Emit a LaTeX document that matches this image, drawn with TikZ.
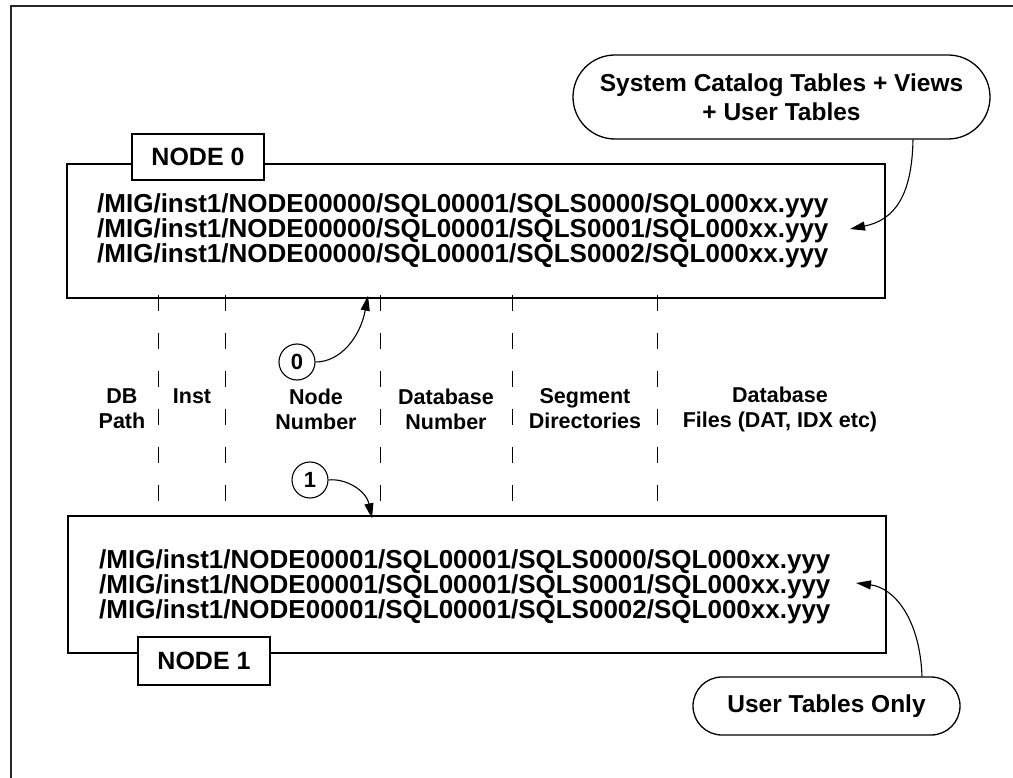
\documentclass[tikz,border=0pt]{standalone}
\usepackage{fontspec}
\setmainfont{Liberation Sans}[BoldFont={Liberation Sans Bold}]
\usetikzlibrary{arrows.meta,shapes.misc}
\begin{document}
\begin{tikzpicture}[x=1pt,y=-1pt,
  every node/.style={font=\bfseries},
  frame/.style={line width=1.4pt,draw=black!85},
  box/.style={draw,line width=1.4pt,minimum width=818pt,inner sep=0pt},
  lbl/.style={draw,fill=white,line width=1.3pt,minimum width=132pt,minimum height=46pt,inner sep=0pt,font=\fontsize{25}{27}\bfseries\selectfont},
  paths/.style={anchor=west,align=left,inner sep=0pt,font=\fontsize{26}{25}\bfseries\selectfont},
  callout/.style={draw,rounded rectangle,line width=1.3pt,inner sep=0pt,align=center,font=\fontsize{24.5}{29}\bfseries\selectfont},
  col/.style={align=center,inner sep=0pt,font=\fontsize{21.5}{25}\bfseries\selectfont},
  sep/.style={line width=0.8pt,dash pattern=on 16pt off 22pt},
  num/.style={draw,circle,line width=1.1pt,minimum size=36pt,inner sep=0pt,font=\fontsize{22}{22}\bfseries\selectfont},
  arr/.style={line width=1.1pt,-{Triangle[length=15pt,width=9pt]}}]
\useasboundingbox (0,0) rectangle (1013,778);
% outer frame
\coordinate (f0) at (11,778);
\coordinate (f1) at (11,6);
\coordinate (f2) at (1013,6);
\draw[frame] (f0) -- (f1) -- (f2);

% top box
\node[box,minimum height=134pt] (box0) at (476,231) {};
\node[paths] (p0) at (97,231) {/MIG/inst1/NODE00000/SQL00001/SQLS0000/SQL000xx.yyy\\/MIG/inst1/NODE00000/SQL00001/SQLS0001/SQL000xx.yyy\\/MIG/inst1/NODE00000/SQL00001/SQLS0002/SQL000xx.yyy};
\node[lbl] (n0) at (198,157) {NODE 0};

% bottom box
\node[box,minimum height=137pt] (box1) at (477,584.5) {};
\node[paths] (p1) at (99,587) {/MIG/inst1/NODE00001/SQL00001/SQLS0000/SQL000xx.yyy\\/MIG/inst1/NODE00001/SQL00001/SQLS0001/SQL000xx.yyy\\/MIG/inst1/NODE00001/SQL00001/SQLS0002/SQL000xx.yyy};
\node[lbl,minimum height=48pt] (n1) at (204,661) {NODE 1};

% callouts
\node[callout,minimum width=417pt,minimum height=84pt] (cat) at (781.5,97) {System Catalog Tables + Views\\+ User Tables};
\node[callout,minimum width=267pt,minimum height=58pt] (usr) at (826.5,706) {User Tables Only};

% column separators
\foreach \x/\n in {158/a,225/b,380/c,512/d,657/e}{
  \coordinate (s\n) at (\x,0 |- box0.south);
  \coordinate (e\n) at (\x,0 |- box1.north);
  \draw[sep] ([yshift=4pt]s\n) -- ([yshift=-5pt]e\n);
}

% column labels
\node[col] (cdb) at (122,409) {DB\\Path};
\node[col] (cin) at (192,396.5) {Inst};
\node[col] (cnn) at (316,409) {Node\\Number};
\node[col] (cdn) at (446,409) {Database\\Number};
\node[col] (csd) at (585,409) {Segment\\Directories};
\node[col] (cdf) at (780,409) {Database\\Files (DAT, IDX etc)};

% node number markers
\node[num] (c0) at (297,362) {0};
\node[num] (c1) at (310,480) {1};
\coordinate (t0) at (368,0 |- box0.south);
\coordinate (t1) at (372,0 |- box1.north);
\draw[arr] (c0.east) .. controls (340,362) and (360,338) .. ([yshift=3pt]t0);
\draw[arr] (c1.east) .. controls (345,478) and (366,490) .. ([yshift=-3pt]t1);

% callout arrows
\coordinate (sa) at (913,0 |- cat.south);
\coordinate (sb) at (922,0 |- usr.north);
\coordinate (ta) at (850,229);
\coordinate (tb) at (856,583);
\draw[arr] (sa) .. controls (912,195) and (895,220) .. (ta);
\draw[arr] (sb) .. controls (920,620) and (895,588) .. (tb);
\end{tikzpicture}
\end{document}
